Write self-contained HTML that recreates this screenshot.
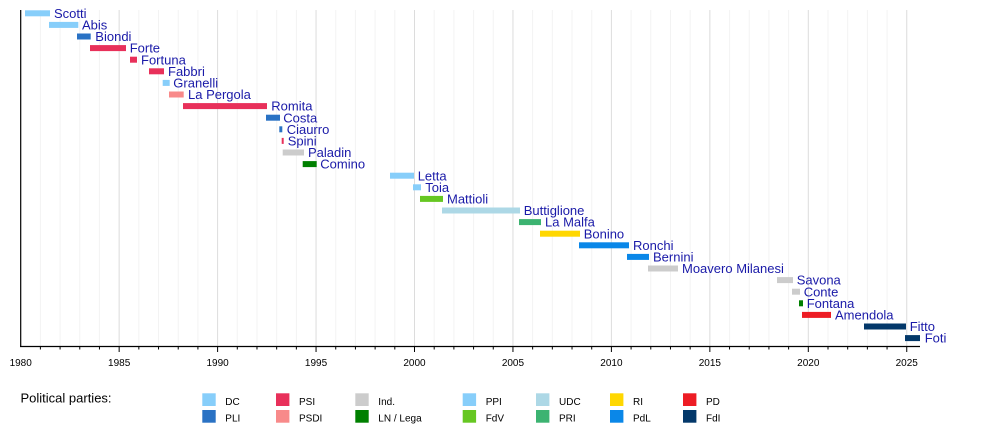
<!DOCTYPE html>
<html><head><meta charset="utf-8"><style>
html,body{margin:0;padding:0;background:#fff;width:1000px;height:426px;overflow:hidden}
svg{display:block;font-family:"Liberation Sans",Arial,sans-serif}
.l{fill:#1a1aa8;font-size:13px}
.t{fill:#000;font-size:10px;text-anchor:middle}
.g{fill:#000;font-size:10px}
</style></head><body>
<svg width="1000" height="426" viewBox="0 0 1000 426" xmlns="http://www.w3.org/2000/svg">
<g id="grid"></g>
<g id="bars"></g>
<line x1="20.7" y1="10" x2="20.7" y2="346.5" stroke="#000" stroke-width="1.2"/>
<line x1="20" y1="346.5" x2="920" y2="346.5" stroke="#000" stroke-width="1.2"/>
<g id="ticks"></g>
<text x="20.5" y="402.5" style="font-size:13px;fill:#000">Political parties:</text>
<g id="leg"></g>
</svg>
<script>
var ns="http://www.w3.org/2000/svg";
function el(p,n,a,t){var e=document.createElementNS(ns,n);for(var k in a)e.setAttribute(k,a[k]);if(t!==undefined)e.textContent=t;document.getElementById(p).appendChild(e);return e;}
function X(y){return 20.7+(y-1980)*19.69;}
for(var y=1981;y<=2025;y++){var x=X(y);var maj=(y%5==0);
el("grid","line",{x1:x,y1:10,x2:x,y2:346,stroke:maj?"#dcdcdc":"#f3f3f3","stroke-width":1});
el("ticks","line",{x1:x,y1:346,x2:x,y2:maj?352:349.5,stroke:"#000","stroke-width":1});}
for(var y=1980;y<=2025;y+=5){el("ticks","text",{x:X(y),y:366,"class":"t"},String(y));}
var C={DC:"#87cefa",PLI:"#2a72c4",PSI:"#e8305a",PSDI:"#f88a8a",IND:"#cccccc",LN:"#008000",PPI:"#87cefa",FDV:"#66c722",UDC:"#add8e6",PRI:"#3cb371",RI:"#ffd700",PDL:"#0a87e8",PD:"#ed1c24",FDI:"#03386a"};
var B=[
["Scotti",25,50,54,"DC"],["Abis",49,78.3,82,"DC"],["Biondi",77,90.7,95.3,"PLI"],["Forte",90,126,129.7,"PSI"],
["Fortuna",130,137,141,"PSI"],["Fabbri",149,164,168,"PSI"],["Granelli",162.7,169.7,173.3,"DC"],["La Pergola",169,183.7,188,"PSDI"],
["Romita",183,267,271.3,"PSI"],["Costa",266,280,283.3,"PLI"],["Ciaurro",279.3,282.3,286.7,"PLI"],["Spini",281.7,283.7,287.7,"PSI"],
["Paladin",282.7,304,308,"IND"],["Comino",302.7,316.7,320.3,"LN"],["Letta",390,414,417.7,"PPI"],["Toia",413,421,425.3,"PPI"],
["Mattioli",420,443,447,"FDV"],["Buttiglione",442,520,523.7,"UDC"],["La Malfa",519,541,545,"PRI"],["Bonino",540,580,583.7,"RI"],
["Ronchi",579,629,633,"PDL"],["Bernini",627,649,653,"PDL"],["Moavero Milanesi",648,678,682,"IND"],["Savona",777,793,796.7,"IND"],
["Conte",792,800,803.7,"IND"],["Fontana",799,803,806.7,"LN"],["Amendola",802,831,835,"PD"],["Fitto",864,906,909.7,"FDI"],["Foti",905,920,924.7,"FDI"]];
for(var i=0;i<B.length;i++){var b=B[i];var cy=13.3+i*11.6;
el("bars","rect",{x:b[1],y:cy-3,width:Math.max(b[2]-b[1],1.5),height:6,fill:C[b[4]]});
el("bars","text",{x:b[3],y:cy+4.6,"class":"l"},b[0]);}
var L=[[202.3,"DC","DC","PLI","PLI"],[276,"PSI","PSI","PSDI","PSDI"],[355.3,"IND","Ind.","LN","LN / Lega"],[462.7,"PPI","PPI","FDV","FdV"],
[536,"UDC","UDC","PRI","PRI"],[610,"RI","RI","PDL","PdL"],[683,"PD","PD","FDI","FdI"]];
for(var j=0;j<L.length;j++){var c=L[j];
el("leg","rect",{x:c[0],y:393.3,width:13.4,height:12.7,fill:C[c[1]]});
el("leg","text",{x:c[0]+23,y:405,"class":"g"},c[2]);
el("leg","rect",{x:c[0],y:410,width:13.4,height:12.7,fill:C[c[3]]});
el("leg","text",{x:c[0]+23,y:421.5,"class":"g"},c[4]);}
</script>
</body></html>
